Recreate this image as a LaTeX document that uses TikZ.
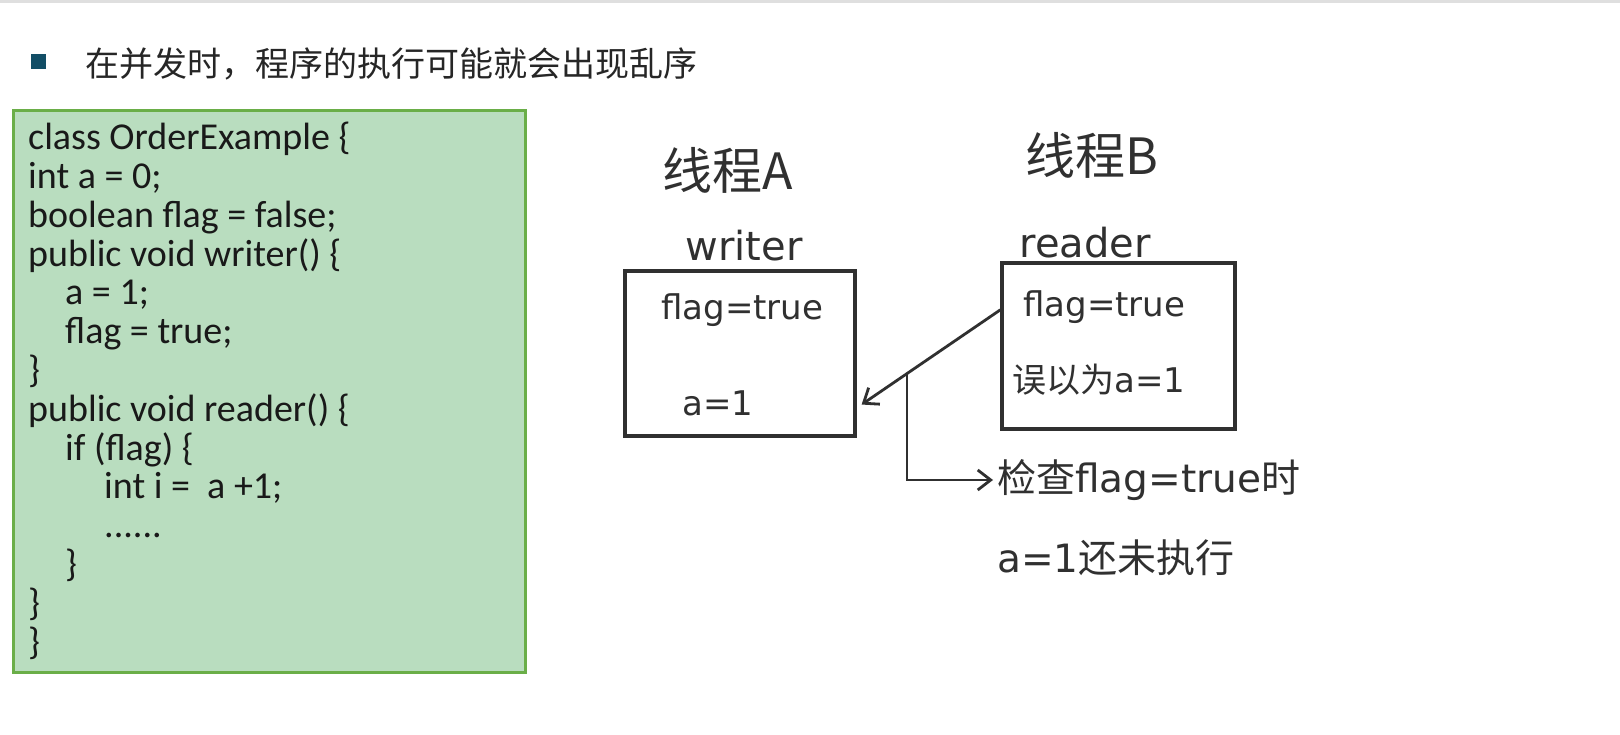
\documentclass[tikz,border=0pt]{standalone}
\usepackage{fontspec}
\setmainfont{DejaVu Sans}
\newfontfamily\cjk{Noto Sans CJK SC}
\newfontfamily\codefont{Carlito}
\usetikzlibrary{arrows.meta, positioning}

\definecolor{ink}{HTML}{303030}
\definecolor{codebg}{HTML}{B9DDBF}
\definecolor{codeframe}{HTML}{6AAE48}
\definecolor{bulletblue}{HTML}{124E66}

\begin{document}
\begin{tikzpicture}[
    x=1pt, y=-1pt,
    hand/.style={text=ink, inner sep=0pt, font=\fontsize{34}{40}\selectfont},
    title/.style={hand, font=\cjk\fontsize{50}{54}\selectfont},
    threadbox/.style={draw=ink, line width=3.4pt, minimum width=230pt, minimum height=165pt, inner sep=0pt},
    arrow/.style={-{Straight Barb[length=13pt, width=20pt]}, draw=ink, line width=2.8pt}
]
\useasboundingbox (0,0) rectangle (1620,735);
\fill[white] (0,0) rectangle (1620,735);
\draw[gray!25, line width=3pt] (0,1.5) -- (1620,1.5);

% Heading
\node[fill=bulletblue, minimum size=15pt, inner sep=0pt] (bullet) at (38.5,61.5) {};
\node[anchor=west, inner sep=0pt, text=black!85, font=\cjk\fontsize{34}{40}\selectfont] (heading) at (85,64) {在并发时，程序的执行可能就会出现乱序};

% Code
\node[draw=codeframe, line width=3pt, fill=codebg, minimum width=512pt, minimum height=561pt] (codebox) at (269,391.5) {};
\node[anchor=north west, inner sep=0pt, align=left, text=black!90, font=\codefont\fontsize{38}{38.8}\selectfont] (code) at (28,122) {%
class OrderExample \{\\
int a = 0;\\
boolean flag = false;\\
public void writer() \{\\
\hspace*{37pt}a = 1;\\
\hspace*{37pt}flag = true;\\
\}\\
public void reader() \{\\
\hspace*{37pt}if (flag) \{\\
\hspace*{76pt}int i = \ a +1;\\
\hspace*{76pt}......\\
\hspace*{37pt}\}\\
\}\\
\}};

% Threads
\node[title] (threadA) at (728,170) {线程A};
\node[title] (threadB) at (1092,155) {线程B};
\node[hand, font=\fontsize{40}{44}\selectfont] (writer) at (744,246) {writer};
\node[hand, font=\fontsize{40}{44}\selectfont] (reader) at (1085,243) {reader};

\node[threadbox] (boxA) at (740,353.5) {};
\node[threadbox, minimum width=233pt, minimum height=166pt] (boxB) at (1118.5,346) {};

\node[hand, anchor=west] (flagA) at (661,310) {flag=true};
\node[hand, anchor=west] (assignA) at (682,403) {a=1};
\node[hand, anchor=west] (flagB) at (1023,307) {flag=true};
\node[hand, anchor=west] (wrongB) at (1012,380) {{\cjk 误以为}a=1};

\node[hand, anchor=west, font=\fontsize{39}{44}\selectfont] (check) at (997,480) {{\cjk 检查}flag=true{\cjk 时}};
\node[hand, anchor=west, font=\fontsize{39}{44}\selectfont] (notyet) at (997,558) {a=1{\cjk 还未执行}};

% Arrows
\draw[arrow, shorten >=6pt] (boxB.163) -- coordinate[pos=0.65] (split) (boxA.-25);
\draw[arrow, shorten >=4pt] (split) |- (check.west);

\end{tikzpicture}
\end{document}
